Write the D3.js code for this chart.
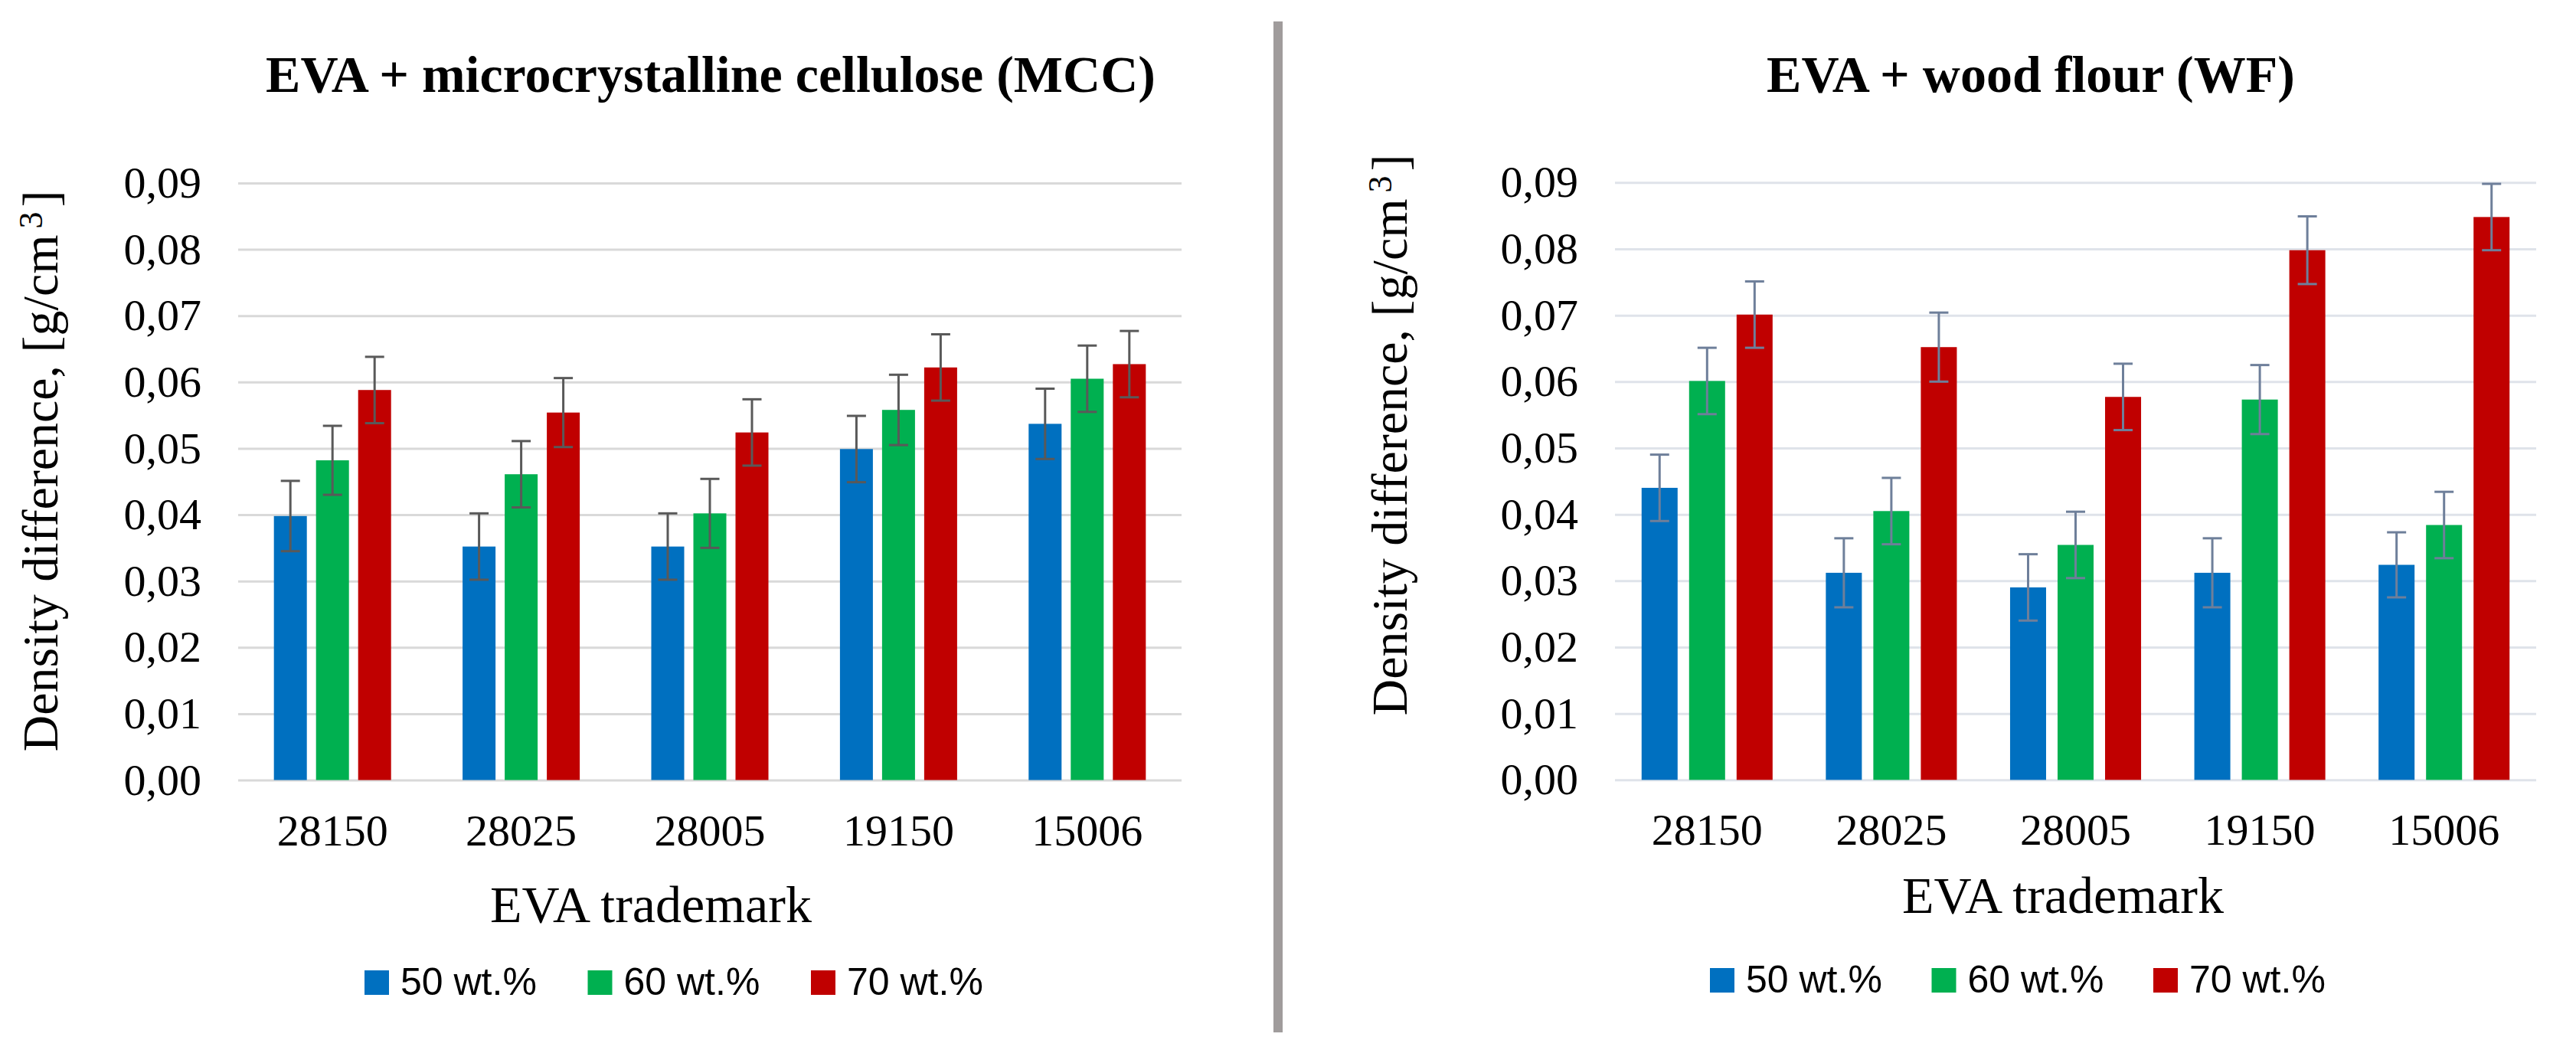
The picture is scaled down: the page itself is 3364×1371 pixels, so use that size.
<!DOCTYPE html>
<html>
<head>
<meta charset="utf-8">
<script src="https://cdn.jsdelivr.net/npm/d3@7"></script>
<style>
body { margin: 0; background: #ffffff; }
</style>
</head>
<body>
<svg id="drawing_region"></svg>
<script>
const categories = ['28150', '28025', '28005', '19150', '15006'];
const series = ['50 wt.%', '60 wt.%', '70 wt.%'];
const colors = ['#0070c0', '#00b050', '#c00000'];
const yTicks = [0, 0.01, 0.02, 0.03, 0.04, 0.05, 0.06, 0.07, 0.08, 0.09];

// EVA + MCC
const mcc50 = [0.0398, 0.0352, 0.0352, 0.0499, 0.0537];
const mcc60 = [0.0482, 0.0461, 0.0402, 0.0558, 0.0605];
const mcc70 = [0.0588, 0.0554, 0.0524, 0.0622, 0.0627];
const mccErr50 = [0.0053, 0.0050, 0.0050, 0.0050, 0.0053];
const mccErr60 = [0.0052, 0.0050, 0.0052, 0.0053, 0.0050];
const mccErr70 = [0.0050, 0.0052, 0.0050, 0.0050, 0.0050];

// EVA + WF
const wf50 = [0.0440, 0.0312, 0.0290, 0.0312, 0.0324];
const wf60 = [0.0601, 0.0405, 0.0354, 0.0573, 0.0384];
const wf70 = [0.0701, 0.0652, 0.0577, 0.0798, 0.0848];
const wfErr50 = [0.0050, 0.0052, 0.0050, 0.0052, 0.0049];
const wfErr60 = [0.0050, 0.0050, 0.0050, 0.0052, 0.0050];
const wfErr70 = [0.0050, 0.0052, 0.0050, 0.0051, 0.0050];

function makeTable(vals, errs) {
    return categories.map((c, i) => ({
        category: c,
        bars: series.map((s, j) => ({ series: s, index: j, value: vals[j][i], err: errs[j][i] }))
    }));
}

const mccData = makeTable([mcc50, mcc60, mcc70], [mccErr50, mccErr60, mccErr70]);
const wfData = makeTable([wf50, wf60, wf70], [wfErr50, wfErr60, wfErr70]);

const svg = d3.select('#drawing_region')
    .attr('width', 3364)
    .attr('height', 1371);

svg.append('rect')
    .attr('width', 3364).attr('height', 1371)
    .attr('fill', '#ffffff');

// divider between the two panels
svg.append('rect')
    .attr('x', 1663).attr('y', 28)
    .attr('width', 12).attr('height', 1320)
    .attr('fill', '#a09c9c');

class BarChart {

    constructor( config, data ) {
        this.config = config;
        this.data = data;
        this.init();
    }

    init() {
        let self = this;
        let c = self.config;

        self.chart = svg.append('g');

        self.xscale = d3.scaleBand()
            .domain( categories )
            .range( [c.left, c.right] )
            .paddingInner( c.groupPad )
            .paddingOuter( c.groupPad / 2 );

        self.x1scale = d3.scaleBand()
            .domain( series )
            .range( [0, self.xscale.bandwidth()] )
            .paddingInner( c.barPad );

        self.yscale = d3.scaleLinear()
            .domain( [0, 0.09] )
            .range( [c.bottom, c.top] );

        self.yaxis = d3.axisLeft( self.yscale )
            .tickValues( yTicks )
            .tickSize( -(c.right - c.left) )
            .tickPadding( 48 )
            .tickFormat( d => d3.format('.2f')(d).replace('.', ',') );

        self.xaxis = d3.axisBottom( self.xscale )
            .tickSize( 0 )
            .tickPadding( 44 );
    }

    render() {
        let self = this;
        let c = self.config;

        const yg = self.chart.append('g')
            .attr('transform', `translate(${c.left},0)`)
            .call( self.yaxis );
        yg.select('.domain').remove();
        yg.selectAll('.tick line')
            .attr('stroke', c.gridColor)
            .attr('stroke-width', 3);
        yg.selectAll('.tick text')
            .attr('font-family', '"Liberation Serif", "Times New Roman", serif')
            .attr('font-size', 58)
            .attr('fill', '#000');

        const groups = self.chart.selectAll('.group')
            .data( self.data )
            .join('g')
            .attr('class', 'group')
            .attr('transform', d => `translate(${self.xscale(d.category)},0)`);

        groups.selectAll('rect')
            .data( d => d.bars )
            .join('rect')
            .attr('x', d => self.x1scale(d.series))
            .attr('y', d => self.yscale(d.value))
            .attr('width', self.x1scale.bandwidth())
            .attr('height', d => self.yscale(0) - self.yscale(d.value))
            .attr('fill', d => colors[d.index]);

        const err = groups.selectAll('.err')
            .data( d => d.bars )
            .join('g')
            .attr('class', 'err')
            .attr('stroke', c.errColor)
            .attr('stroke-width', 3);
        const cx = d => self.x1scale(d.series) + self.x1scale.bandwidth() / 2;
        err.append('line')
            .attr('x1', cx).attr('x2', cx)
            .attr('y1', d => self.yscale(d.value - d.err))
            .attr('y2', d => self.yscale(d.value + d.err));
        err.append('line')
            .attr('x1', d => cx(d) - 12.5).attr('x2', d => cx(d) + 12.5)
            .attr('y1', d => self.yscale(d.value + d.err))
            .attr('y2', d => self.yscale(d.value + d.err));
        err.append('line')
            .attr('x1', d => cx(d) - 12.5).attr('x2', d => cx(d) + 12.5)
            .attr('y1', d => self.yscale(d.value - d.err))
            .attr('y2', d => self.yscale(d.value - d.err));

        const xg = self.chart.append('g')
            .attr('transform', `translate(0,${c.bottom})`)
            .call( self.xaxis );
        xg.select('.domain').remove();
        xg.selectAll('.tick text')
            .attr('font-family', '"Liberation Serif", "Times New Roman", serif')
            .attr('font-size', 58)
            .attr('fill', '#000');

        // title
        self.chart.append('text')
            .attr('x', c.titleX).attr('y', 120)
            .attr('text-anchor', 'middle')
            .attr('font-family', '"Liberation Serif", "Times New Roman", serif')
            .attr('font-weight', 'bold')
            .attr('font-size', 68)
            .text( c.title );

        // x axis title
        self.chart.append('text')
            .attr('x', c.xTitleX).attr('y', c.xTitleY)
            .attr('text-anchor', 'middle')
            .attr('font-family', '"Liberation Serif", "Times New Roman", serif')
            .attr('font-size', 68)
            .text('EVA trademark');

        // y axis title
        const yt = self.chart.append('text')
            .attr('transform', `translate(${c.yTitleX},${c.yTitleY}) rotate(-90)`)
            .attr('text-anchor', 'middle')
            .attr('font-family', '"Liberation Serif", "Times New Roman", serif')
            .attr('font-size', 66);
        yt.append('tspan').text('Density difference, [g/cm');
        yt.append('tspan').attr('dx', 8).attr('dy', -20).attr('font-size', 44).text('3');
        yt.append('tspan').attr('dx', 6).attr('dy', 20).text(']');

        // legend
        const lg = self.chart.selectAll('.legend')
            .data( series )
            .join('g')
            .attr('class', 'legend')
            .attr('transform', (d, i) => `translate(${c.legendX + i * c.legendStep},${c.legendY})`);
        lg.append('rect')
            .attr('x', 0).attr('y', -32)
            .attr('width', 32).attr('height', 32)
            .attr('fill', (d, i) => colors[i]);
        lg.append('text')
            .attr('x', 47).attr('y', 0)
            .attr('font-family', '"Liberation Sans", Arial, sans-serif')
            .attr('font-size', 50)
            .attr('fill', '#000')
            .text( d => d );
    }
}

const leftChart = new BarChart({
    left: 311, right: 1543, top: 239, bottom: 1018.5,
    groupPad: 0.379, barPad: 0.218,
    gridColor: '#d9d9d9', errColor: '#595959',
    title: 'EVA + microcrystalline cellulose (MCC)', titleX: 928,
    xTitleX: 850, xTitleY: 1204,
    yTitleX: 75, yTitleY: 615,
    legendX: 476, legendStep: 291.5, legendY: 1299
}, mccData);
leftChart.render();

const rightChart = new BarChart({
    left: 2109, right: 3312, top: 238.3, bottom: 1018.3,
    groupPad: 0.289, barPad: 0.242,
    gridColor: '#dfe3ea', errColor: '#6e7f9a',
    title: 'EVA + wood flour (WF)', titleX: 2652,
    xTitleX: 2694, xTitleY: 1192,
    yTitleX: 1837, yTitleY: 568,
    legendX: 2233, legendStep: 289.5, legendY: 1296
}, wfData);
rightChart.render();
</script>
</body>
</html>
